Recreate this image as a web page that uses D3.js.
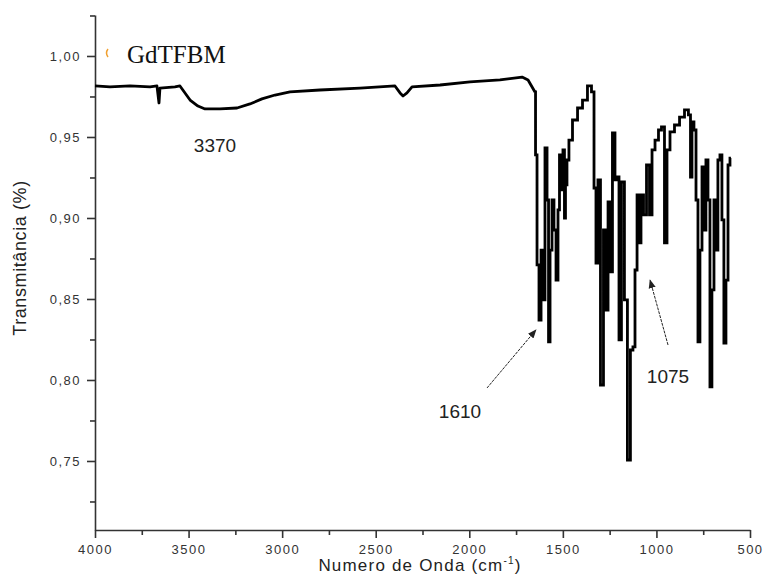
<!DOCTYPE html>
<html>
<head>
<meta charset="utf-8">
<script src="https://cdn.jsdelivr.net/npm/d3@7"></script>
<style>
  body { margin: 0; background: #fff; }
  text { font-family: Arial, "Liberation Sans", sans-serif; }
</style>
</head>
<body>
<script>
var w = 764;
var h = 575;

// spectrum (cm-1, transmittance)
var waveNumber = [4000, 3920, 3813, 3706, 3669, 3658, 3653, 3573, 3546, 3492,
  3450, 3412, 3332, 3241, 3172, 3108, 3038, 2958, 2798, 2584,
  2397, 2370, 2354, 2333, 2306, 2156, 1996, 1836, 1718, 1686,
  1649, 1643, 1633, 1622, 1611, 1601, 1590, 1579, 1574, 1563,
  1553, 1542, 1531, 1521, 1515, 1505, 1494, 1489, 1483, 1473, 1462, 1435,
  1408, 1382, 1355, 1339, 1328, 1318, 1307, 1291, 1275, 1264,
  1253, 1243, 1227, 1216, 1205, 1195, 1179, 1163, 1147, 1131,
  1120, 1109, 1098, 1088, 1077, 1061, 1045, 1029, 1018, 997,
  981, 965, 949, 938, 917, 890, 863, 837, 821, 815,
  805, 794, 783, 773, 762, 751, 741, 730, 719, 709,
  698, 687, 677, 666, 655, 645, 634, 623, 612, 602];
var transmittance = [0.9815, 0.9809, 0.9815, 0.9809, 0.9815, 0.9710, 0.9802, 0.9809, 0.9815, 0.9728,
  0.9691, 0.9673, 0.9673, 0.9679, 0.9704, 0.9735, 0.9759, 0.9778, 0.9790, 0.9802,
  0.9815, 0.9772, 0.9753, 0.9772, 0.9809, 0.9821, 0.9840, 0.9852, 0.9870, 0.9852,
  0.9778, 0.9389, 0.8710, 0.8370, 0.8802, 0.8494, 0.9432, 0.9111, 0.8235, 0.8802,
  0.9111, 0.8926, 0.8617, 0.9050, 0.9389, 0.9173, 0.9420, 0.9000, 0.9204, 0.9358, 0.9481, 0.9605,
  0.9679, 0.9728, 0.9815, 0.9778, 0.9185, 0.8722, 0.9235, 0.7969, 0.8926, 0.8432,
  0.9099, 0.8667, 0.9525, 0.9235, 0.9253, 0.8247, 0.9222, 0.8494, 0.7506, 0.8185,
  0.8204, 0.8679, 0.9142, 0.8846, 0.9142, 0.9019, 0.9327, 0.9019, 0.9420, 0.9481,
  0.9543, 0.9562, 0.8846, 0.9420, 0.9531, 0.9574, 0.9623, 0.9667, 0.9636, 0.9253,
  0.9593, 0.9543, 0.9111, 0.8235, 0.8802, 0.9315, 0.8926, 0.9358, 0.9111, 0.7957,
  0.8556, 0.9111, 0.8802, 0.9358, 0.9389, 0.8988, 0.8228, 0.8617, 0.9327, 0.9370];

var xTicks = [4000, 3500, 3000, 2500, 2000, 1500, 1000, 500];
var xMinor = [3750, 3250, 2750, 2250, 1750, 1250, 750];
var yTicks = [0.75, 0.80, 0.85, 0.90, 0.95, 1.00];
var yMinor = [0.725, 0.775, 0.825, 0.875, 0.925, 0.975, 1.025];

// peak labels and arrows [from wn, from T, to wn, to T]
var peakLabels = ["3370", "1610", "1075"];
var arrows = [[1905, 0.7951, 1644, 0.8309], [938, 0.8216, 1034, 0.8617]];
var seriesName = "GdTFBM";

var svg = d3.select("body").append("svg")
          .attr("width", w)
          .attr("height", h);

var x = d3.scaleLinear().domain([4000, 500]).range([95, 750]);
var y = d3.scaleLinear().domain([0.7074, 1.0253]).range([530, 15]);

var comma = function(d) { return d3.format(".2f")(d).replace(".", ","); };

// x axis
svg.append("g")
   .attr("transform", "translate(0,530)")
   .call(d3.axisBottom(x).tickValues(xTicks).tickSize(8).tickSizeOuter(0).tickPadding(7).tickFormat(d3.format("d")));
svg.append("g")
   .attr("class", "minor")
   .attr("transform", "translate(0,530)")
   .call(d3.axisBottom(x).tickValues(xMinor).tickSize(5).tickSizeOuter(0).tickFormat(function() { return ""; }));

// y axis
svg.append("g")
   .attr("transform", "translate(95,0)")
   .call(d3.axisLeft(y).tickValues(yTicks).tickSize(8).tickSizeOuter(0).tickPadding(6).tickFormat(comma));
svg.append("g")
   .attr("class", "minor")
   .attr("transform", "translate(95,0)")
   .call(d3.axisLeft(y).tickValues(yMinor).tickSize(5).tickSizeOuter(0).tickFormat(function() { return ""; }));
svg.selectAll(".minor .domain").remove();

svg.selectAll(".domain, .tick line")
   .attr("stroke", "#333")
   .attr("stroke-width", 1.6);
svg.selectAll(".tick text")
   .attr("fill", "#333")
   .style("font-size", "13px")
   .style("letter-spacing", "1.5px");

// axis titles
svg.append("text")
   .attr("x", 420)
   .attr("y", 571)
   .attr("text-anchor", "middle")
   .style("font-size", "17px")
   .style("letter-spacing", "1.2px")
   .attr("fill", "#222")
   .html('Numero de Onda (cm<tspan dy="-7" style="font-size:10px">-1</tspan><tspan dy="7">)</tspan>');

svg.append("text")
   .attr("transform", "translate(26,258) rotate(-90)")
   .attr("text-anchor", "middle")
   .style("font-size", "18px")
   .style("letter-spacing", "0.6px")
   .attr("fill", "#222")
   .text("Transmitância (%)");

// spectrum: smooth part above 1649 cm-1, dense bands below drawn as columns
var pts = waveNumber.map(function(d, i) { return [d, transmittance[i]]; });
var broad = pts.filter(function(d) { return d[0] >= 1649; });
var bands = pts.filter(function(d) { return d[0] <= 1649; });

var line = d3.line()
             .x(function(d) { return x(d[0]); })
             .y(function(d) { return y(d[1]); });
var stepLine = d3.line()
             .curve(d3.curveStep)
             .x(function(d) { return x(d[0]); })
             .y(function(d) { return y(d[1]); });

svg.append("path")
   .datum(broad)
   .attr("d", line)
   .attr("fill", "none")
   .attr("stroke", "black")
   .attr("stroke-width", 2.8)
   .attr("stroke-linejoin", "round");
svg.append("path")
   .datum(bands)
   .attr("d", stepLine)
   .attr("fill", "none")
   .attr("stroke", "black")
   .attr("stroke-width", 2.8)
   .attr("stroke-linejoin", "miter");

// legend
svg.append("path")
   .attr("d", "M108,49 Q105,53 108,57")
   .attr("fill", "none")
   .attr("stroke", "#f0a030")
   .attr("stroke-width", 1.5);
svg.append("text")
   .attr("x", 127)
   .attr("y", 63)
   .style("font-family", "'Liberation Serif', 'Times New Roman', serif")
   .style("font-size", "25px")
   .attr("fill", "#111")
   .text(seriesName);

// annotations
var defs = svg.append("defs");
defs.append("marker")
    .attr("id", "head")
    .attr("viewBox", "0 0 10 10")
    .attr("refX", 9)
    .attr("refY", 5)
    .attr("markerWidth", 9)
    .attr("markerHeight", 9)
    .attr("orient", "auto")
    .attr("markerUnits", "userSpaceOnUse")
    .append("path")
    .attr("d", "M0,1 L10,5 L0,9 Z")
    .attr("fill", "#222");

svg.append("text").attr("x", 215).attr("y", 152).attr("text-anchor", "middle")
   .style("font-size", "19px").attr("fill", "#222").text(peakLabels[0]);
svg.append("text").attr("x", 460).attr("y", 418).attr("text-anchor", "middle")
   .style("font-size", "19px").attr("fill", "#222").text(peakLabels[1]);
svg.append("text").attr("x", 668).attr("y", 383).attr("text-anchor", "middle")
   .style("font-size", "19px").attr("fill", "#222").text(peakLabels[2]);

svg.selectAll(".arrow")
   .data(arrows)
   .enter().append("line")
   .attr("class", "arrow")
   .attr("x1", function(d) { return x(d[0]); })
   .attr("y1", function(d) { return y(d[1]); })
   .attr("x2", function(d) { return x(d[2]); })
   .attr("y2", function(d) { return y(d[3]); })
   .attr("stroke", "#222").attr("stroke-width", 1)
   .attr("stroke-dasharray", "3,1")
   .attr("marker-end", "url(#head)");
</script>
</body>
</html>
